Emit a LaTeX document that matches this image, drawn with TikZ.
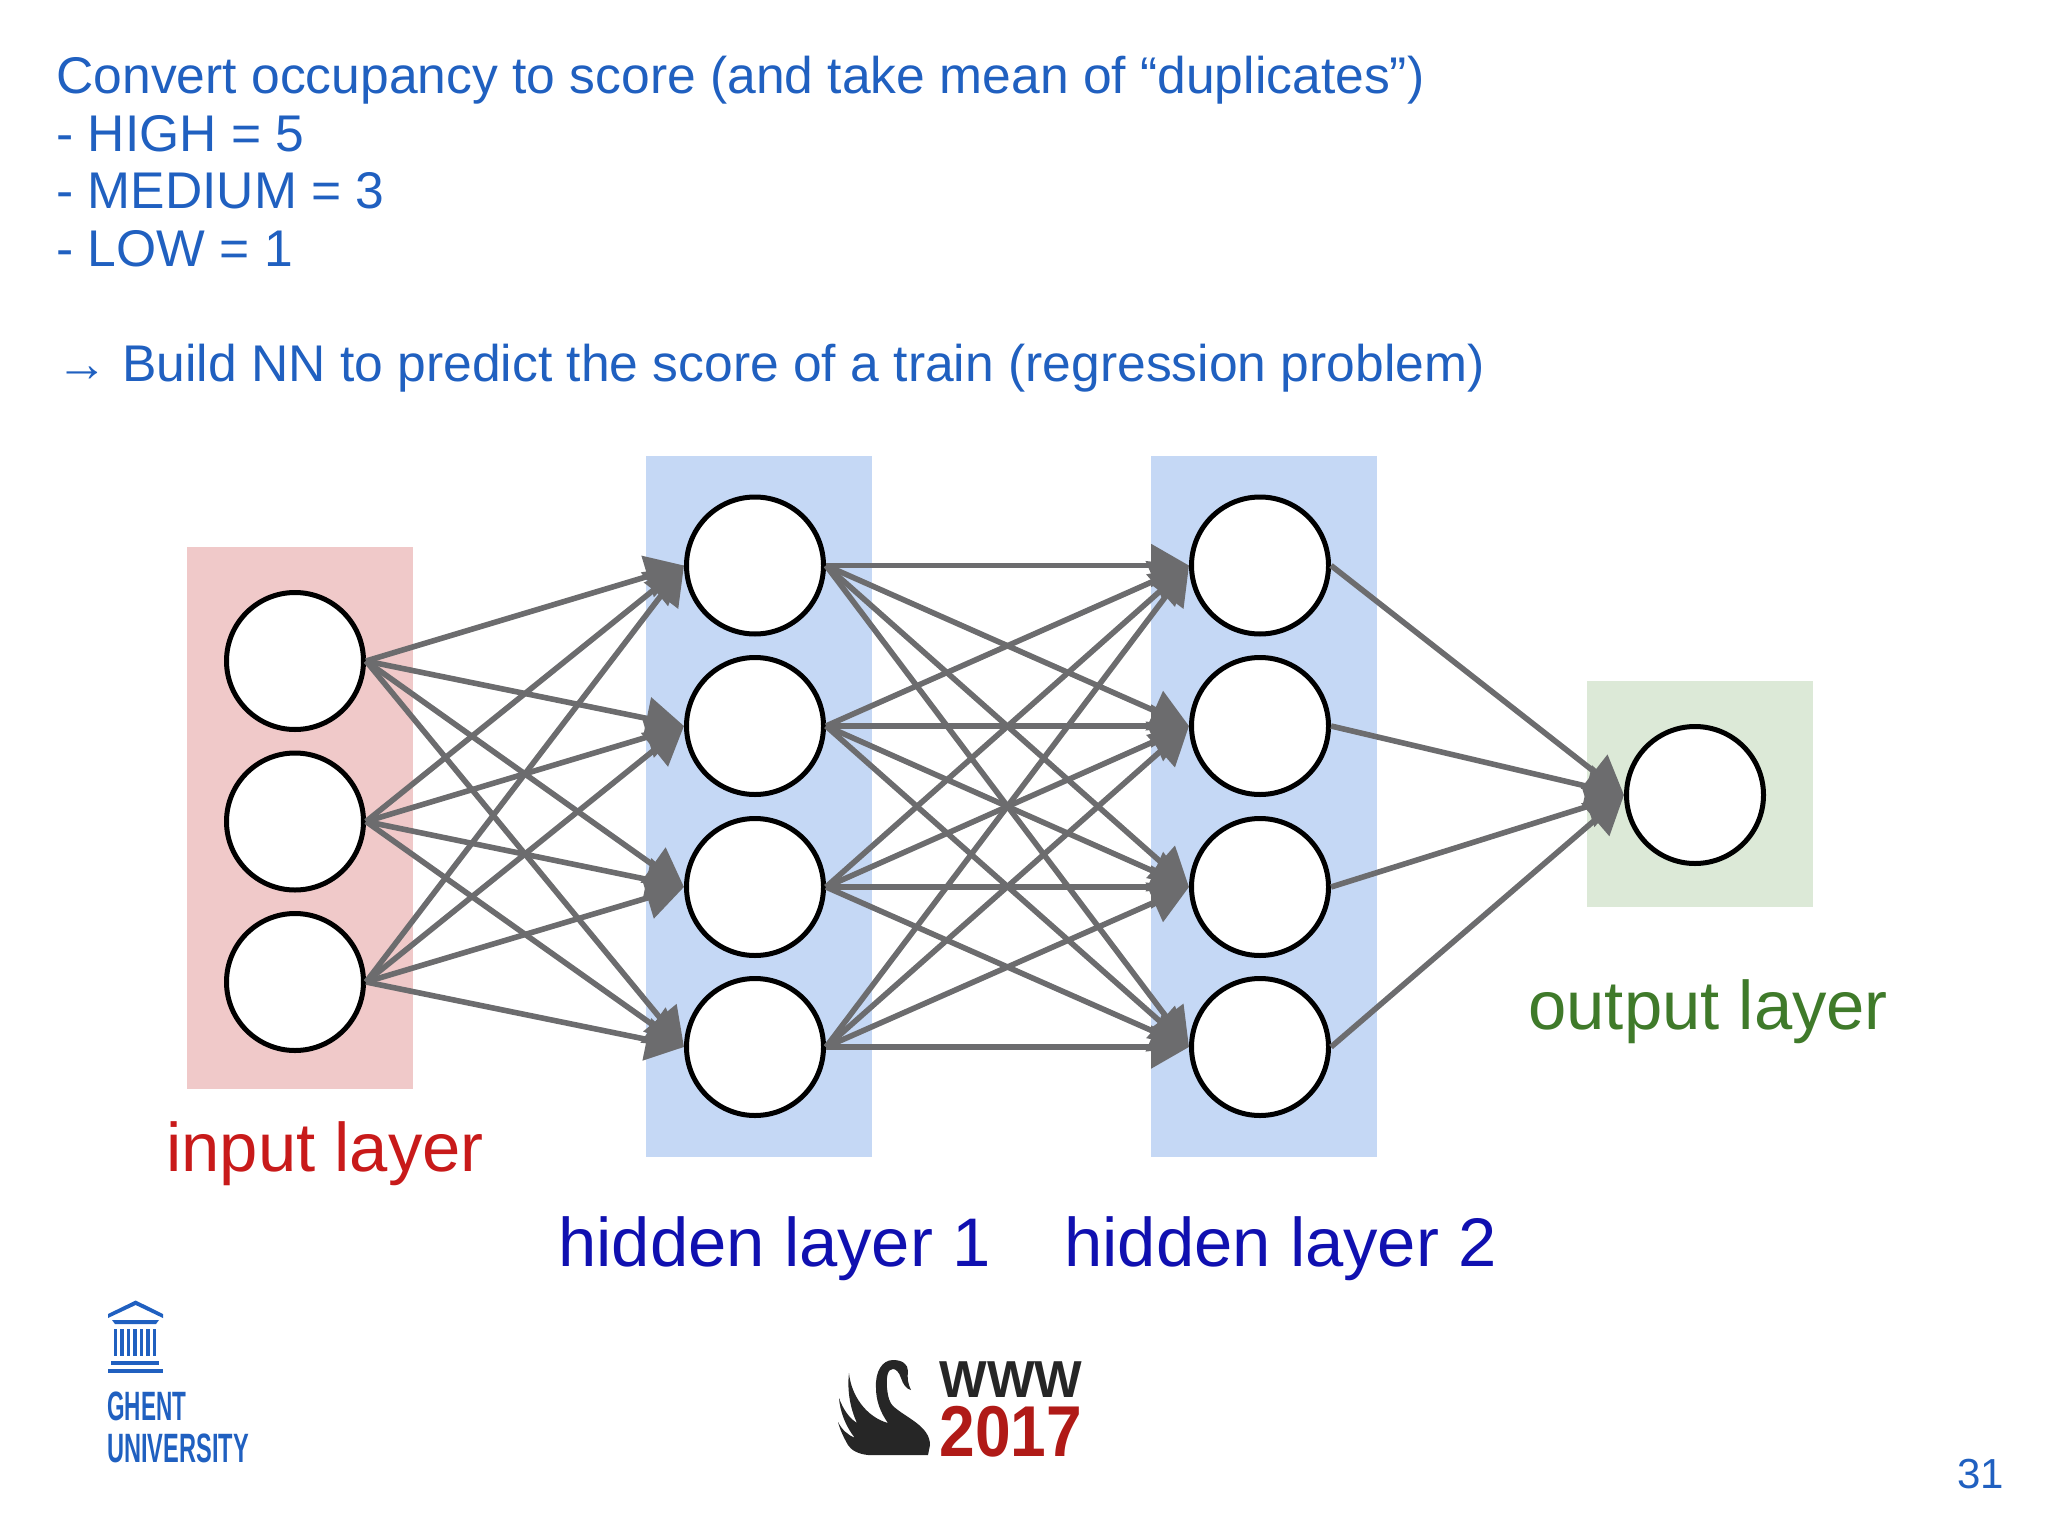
\documentclass[tikz,border=0pt]{standalone}
\usepackage{fontspec}
\setmainfont{Liberation Sans}
\usetikzlibrary{arrows.meta}
\definecolor{slideblue}{HTML}{2060C0}
\definecolor{edgegray}{HTML}{6C6C6E}
\definecolor{inputred}{HTML}{F0C9C9}
\definecolor{hiddenblue}{HTML}{C5D8F5}
\definecolor{outputgreen}{HTML}{DCE9D7}
\definecolor{swandark}{HTML}{262626}
\definecolor{logored}{HTML}{B01A17}
\definecolor{labelred}{HTML}{C81A1A}
\definecolor{labelblue}{HTML}{1010B0}
\definecolor{labelgreen}{HTML}{3F7A2A}
\tikzset{
    neuron/.style={circle, draw=black, line width=2.5pt, fill=white, minimum size=68.5pt, inner sep=0pt},
    edge/.style={draw=edgegray, line width=2.8pt, -{Triangle[length=19pt, width=21pt]}},
    layerbox/.style={inner sep=0pt, minimum width=113pt},
    slidetext/.style={anchor=base west, inner sep=0pt, text=slideblue, font=\fontsize{25.8}{30}\selectfont},
    layertext/.style={anchor=base west, inner sep=0pt, font=\fontsize{34.4}{40}\selectfont},
    logotext/.style={anchor=base west, inner sep=0pt}
}
\begin{document}
\begin{tikzpicture}[x=0.5pt, y=-0.5pt]
    \useasboundingbox (0,0) rectangle (2048,1535);

    % slide text
    \node[slidetext] (title) at (56,94) {Convert occupancy to score (and take mean of “duplicates”)};
    \node[slidetext] (high) at (56,152) {- HIGH = 5};
    \node[slidetext] (medium) at (56,209) {- MEDIUM = 3};
    \node[slidetext] (low) at (56,267) {- LOW = 1};
    \node[slidetext] (build) at (56,381) {→ Build NN to predict the score of a train (regression problem)};
    \node[slidetext, font=\fontsize{21}{25}\selectfont] (pagenum) at (1957,1488) {31};

    % layer backgrounds
    \node[layerbox, fill=inputred, minimum height=271pt] (inbox) at (300,818) {};
    \node[layerbox, fill=hiddenblue, minimum height=350.5pt] (hoxone) at (759,806.5) {};
    \node[layerbox, fill=hiddenblue, minimum height=350.5pt] (hoxtwo) at (1264,806.5) {};
    \node[layerbox, fill=outputgreen, minimum height=113pt] (outbox) at (1700,793.5) {};

    % neurons
    \foreach \y [count=~] in {661, 821.5, 982} {
        \node[neuron] (in~) at (295,\y) {};
    }
    \foreach \y [count=~] in {565.5, 726, 887, 1047} {
        \node[neuron] (one~) at (755,\y) {};
        \node[neuron] (two~) at (1260,\y) {};
    }
    \node[neuron] (out) at (1695,795) {};

    % connections
    \foreach \a in {1,2,3} {
        \foreach \b in {1,2,3,4} {
            \draw[edge] (in\a.east) -- (one\b.west);
        }
    }
    \foreach \a in {1,2,3,4} {
        \foreach \b in {1,2,3,4} {
            \draw[edge] (one\a.east) -- (two\b.west);
        }
        \draw[edge] (two\a.east) -- (out.west);
    }

    % layer labels
    \node[layertext, text=labelred] (inlabel) at (166,1171) {input layer};
    \node[layertext, text=labelblue] (onelabel) at (558,1266) {hidden layer 1};
    \node[layertext, text=labelblue] (twolabel) at (1064,1266) {hidden layer 2};
    \node[layertext, text=labelgreen] (outlabel) at (1528,1029) {output layer};

    % ghent logo
    \fill[slideblue] (108,1314) -- (135.7,1300.5) -- (163,1314) -- (163,1318) -- (135.7,1305) -- (108,1318) -- cycle;
    \fill[slideblue] (112,1320) -- (159,1320) -- (156,1324) -- (115,1324) -- cycle;
    \foreach \x in {0,...,6} {
        \fill[slideblue] ({114+6.43*\x},1329) rectangle ++(3.4,27);
    }
    \fill[slideblue] (111,1361) rectangle (159,1365);
    \fill[slideblue] (108,1369) rectangle (163,1373);
    \node[logotext, text=slideblue] (ghent) at (107,1420) {\fontsize{20.5}{24}\selectfont\bfseries\scalebox{.55}[1]{GHENT}};
    \node[logotext, text=slideblue] (univ) at (107,1462) {\fontsize{20.5}{24}\selectfont\bfseries\scalebox{.575}[1]{UNIVERSITY}};

    % www logo
    \fill[swandark] (893,1360) .. controls (902,1360) and (908,1364) .. (908,1371)
        .. controls (907,1378) and (908,1384) .. (911,1390)
        .. controls (906,1389) and (903,1384) .. (901,1378)
        .. controls (899,1372) and (896,1369) .. (893,1369)
        .. controls (888,1369) and (886,1376) .. (887,1388)
        .. controls (888,1398) and (890,1403) .. (893,1406)
        .. controls (906,1418) and (930,1426) .. (930,1445)
        -- (928,1455) -- (868,1455)
        .. controls (858,1454) and (851,1450) .. (848,1445)
        .. controls (844,1438) and (840,1430) .. (838,1422)
        .. controls (842,1430) and (848,1435) .. (855,1438)
        .. controls (846,1427) and (840,1412) .. (839,1398)
        .. controls (843,1409) and (849,1418) .. (857,1423)
        .. controls (850,1408) and (847,1390) .. (849,1373)
        .. controls (851,1395) and (866,1417) .. (888,1423)
        .. controls (880,1412) and (876,1400) .. (876,1388)
        .. controls (875,1372) and (882,1360) .. (893,1360) -- cycle;
    \node[logotext, text=swandark] (www) at (939,1397) {\fontsize{26}{30}\selectfont\bfseries\scalebox{.97}[1]{WWW}};
    \node[logotext, text=logored] (year) at (939,1456) {\fontsize{36}{40}\selectfont\bfseries\scalebox{.89}[1]{2017}};
\end{tikzpicture}
\end{document}
